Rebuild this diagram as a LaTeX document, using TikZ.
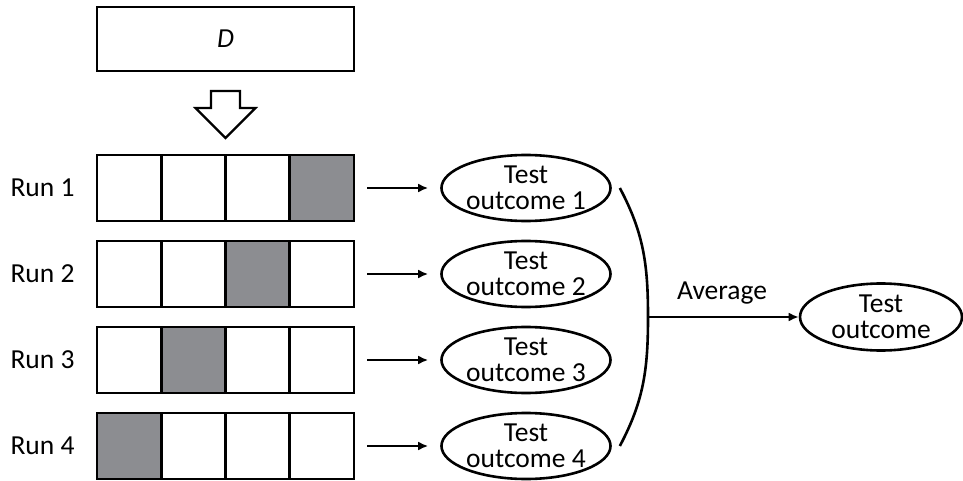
\documentclass[tikz,border=0pt]{standalone}
\usepackage{fontspec}
\setmainfont{Carlito}
\usetikzlibrary{arrows.meta,shapes.geometric}
\definecolor{foldgray}{RGB}{140,141,145}

\begin{document}
\begin{tikzpicture}[x=1pt,y=1pt,line width=2.6pt]
                        \tikzstyle{cell}=[draw,minimum width=64.25pt,minimum height=66pt,inner sep=0pt,outer sep=0pt]
                        \tikzstyle{heldout}=[cell,fill=foldgray]
                        \tikzstyle{outcome}=[draw,ellipse,minimum width=164pt,minimum height=66pt,inner sep=0pt,align=center,font=\fontsize{27.5}{26}\selectfont]
                        \tikzstyle{label}=[font=\fontsize{27.5}{32}\selectfont]
                        \tikzstyle{feed}=[-{Latex[length=10pt,width=9pt]}]
                        \useasboundingbox (0,0) rectangle (963,480);
                        \node[draw,minimum width=257pt,minimum height=64pt,inner sep=0pt,label] (data) at (225.5,441) {\textit{D}};
                        \coordinate (split) at (225.5,389);
                        \draw[line width=2.2pt] ([xshift=-14.5pt]split) -- ++(0,-17) -- ++(-15.5,0) -- ++(30,-30)
                            -- ++(30,30) -- ++(-15.5,0) -- ++(0,17) -- cycle;
                        \foreach \r/\y/\h in {1/292/4,2/206/3,3/120/2,4/34/1}{
                            \node[label] (run\r) at (42.5,\y) {Run \r};
                            \foreach \c/\x in {1/129.125,2/193.375,3/257.625,4/321.875}{
                                \ifnum\c=\h \def\cellstyle{heldout}\else\def\cellstyle{cell}\fi
                                \node[\cellstyle] (cell\r-\c) at (\x,\y) {};
                            }
                            \node[outcome] (test\r) at (526,\y) {Test\\outcome \r};
                            \draw[feed] ([xshift=13pt]cell\r-4.east) -- ([xshift=-12pt]test\r.west);
                        }
                        \coordinate (join) at (648,163);
                        \draw ([xshift=8pt]test1.east) to[out=-62,in=90] (join)
                            to[out=-90,in=62] ([xshift=8pt]test4.east);
                        \node[outcome,minimum width=162pt,minimum height=67pt] (final) at (881,163) {Test\\outcome};
                        \draw[feed] (join) -- (final.west);
                        \node[label,anchor=base] (avg) at (722,181) {Average};
                    \end{tikzpicture}
\end{document}
